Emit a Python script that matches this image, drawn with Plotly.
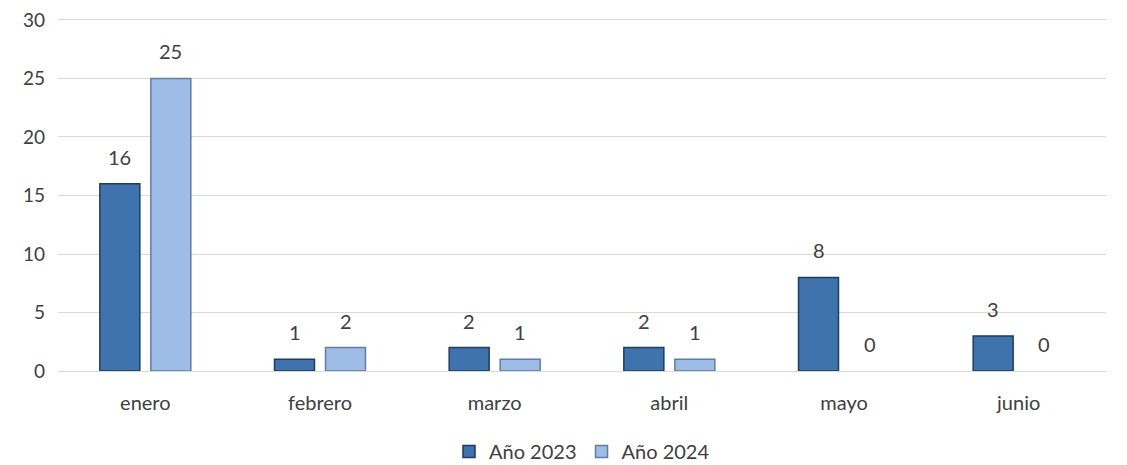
import plotly.graph_objects as go

months = ["enero", "febrero", "marzo", "abril", "mayo", "junio"]
y2023 = [16, 1, 2, 2, 8, 3]
y2024 = [25, 2, 1, 1, 0, 0]
series_names = ["Año 2023", "Año 2024"]
yticks = [0, 5, 10, 15, 20, 25, 30]

font_family = "Lato, Open Sans, sans-serif"
text_col = "#404040"


def edge_widths(vals):
    return [1.5 if v > 0 else 0 for v in vals]


fig = go.Figure()
fig.add_trace(go.Bar(
    x=months, y=y2023, name=series_names[0],
    marker=dict(color="#3E73AE", line=dict(color="#1E3D63", width=edge_widths(y2023))),
))
fig.add_trace(go.Bar(
    x=months, y=y2024, name=series_names[1],
    marker=dict(color="#9DBDE6", line=dict(color="#5F7EA6", width=edge_widths(y2024))),
))

# value labels above bars, placed through the axes
for vals, shift in ((y2023, -25.5), (y2024, 25.5)):
    for m, v in zip(months, vals):
        fig.add_annotation(x=m, y=v, xref="x", yref="y", text=str(v), showarrow=False,
                           xshift=shift, yshift=27, yanchor="middle",
                           font=dict(size=20, color=text_col, family=font_family))

# page body has an 8px default margin, so the margins compensate for it
fig.update_layout(
    width=1127, height=465,
    margin=dict(l=50, r=29, t=10, b=102, autoexpand=False),
    paper_bgcolor="white", plot_bgcolor="white",
    barmode="group", bargap=0.416, bargroupgap=0.216,
    font=dict(family=font_family, size=20, color=text_col),
    showlegend=True,
    legend=dict(orientation="h", x=0.5, xanchor="center", y=-0.228, yanchor="middle",
                font=dict(size=20, color=text_col), itemwidth=30, traceorder="normal"),
)
fig.update_xaxes(showgrid=False, showline=False, ticks="", ticklabelstandoff=18,
                 tickfont=dict(size=20, color=text_col))
fig.update_yaxes(range=[0, 30.17], tickvals=yticks, showgrid=True, gridcolor="#D9D9D9",
                 gridwidth=1, zeroline=True, zerolinecolor="#D9D9D9", zerolinewidth=1,
                 showline=False, ticks="", ticklabelstandoff=12, ticklabeloverflow="allow",
                 tickfont=dict(size=19, color=text_col))

fig.write_html("out.html")
